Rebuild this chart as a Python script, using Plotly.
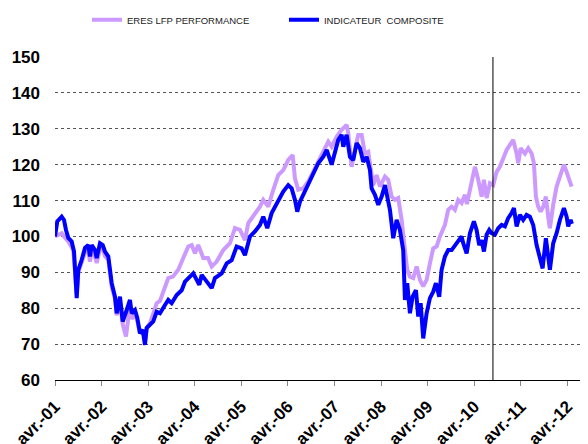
import plotly.graph_objects as go

# x positions: years elapsed since April 2001
composite_t = [0, 0.049, 0.144, 0.193, 0.236, 0.285, 0.358, 0.408, 0.466, 0.500, 0.573, 0.644, 0.715, 0.751,
               0.788, 0.858, 0.895, 0.966, 1.024, 1.073, 1.144, 1.217, 1.288, 1.324, 1.395, 1.453, 1.539, 1.609,
               1.646, 1.717, 1.766, 1.824, 1.882, 1.931, 1.968, 2.039, 2.109, 2.182, 2.253, 2.361, 2.431, 2.504,
               2.612, 2.719, 2.790, 2.897, 2.968, 3.041, 3.097, 3.148, 3.255, 3.363, 3.433, 3.577, 3.685, 3.792,
               3.899, 4.006, 4.077, 4.185, 4.292, 4.399, 4.470, 4.556, 4.650, 4.792, 4.899, 5.006, 5.079, 5.150,
               5.200, 5.258, 5.365, 5.472, 5.579, 5.650, 5.758, 5.831, 5.938, 6.009, 6.079, 6.152, 6.187, 6.260,
               6.330, 6.401, 6.474, 6.545, 6.616, 6.689, 6.760, 6.796, 6.867, 6.938, 7.011, 7.082, 7.152, 7.189,
               7.260, 7.333, 7.403, 7.474, 7.511, 7.560, 7.618, 7.676, 7.747, 7.796, 7.848, 7.903, 7.976, 8.047,
               8.118, 8.176, 8.247, 8.298, 8.369, 8.440, 8.513, 8.620, 8.727, 8.762, 8.835, 8.906, 8.991, 9.049,
               9.105, 9.157, 9.206, 9.264, 9.320, 9.371, 9.442, 9.513, 9.586, 9.657, 9.727, 9.800, 9.850, 9.908,
               9.979, 10.049, 10.122, 10.193, 10.264, 10.337, 10.408, 10.466, 10.536, 10.586, 10.622, 10.693,
               10.766, 10.837, 10.923, 10.981, 11.015, 11.067, 11.094]
composite_v = [100, 104.2, 105.5, 104.6, 101.8, 99.6, 98.6, 95.8, 82.8, 90.7, 93.5, 96.8, 97.6, 94.4,
               97.6, 96.2, 94.0, 98.1, 97.6, 95.8, 94.4, 87.0, 83.2, 78.6, 83.2, 76.3, 79.5, 82.3,
               78.6, 79.5, 77.3, 73.0, 74.0, 69.8, 74.5, 75.3, 76.3, 79.0, 78.6, 80.9, 82.3, 81.4,
               83.7, 85.0, 87.4, 88.8, 89.7, 87.9, 86.5, 89.3, 87.4, 85.6, 88.4, 89.7, 92.5, 93.4,
               97.2, 96.7, 94.8, 100.0, 101.4, 103.2, 105.5, 102.3, 106.5, 110.2, 112.5, 114.3, 113.4, 110.2,
               106.9, 109.7, 112.5, 115.3, 118.0, 120.4, 122.2, 124.1, 120.0, 124.1, 126.9, 128.3, 125.0, 128.3,
               122.2, 121.3, 126.0, 124.6, 120.8, 122.2, 118.5, 113.4, 111.6, 108.8, 111.1, 114.3, 110.2, 107.4,
               99.5, 104.6, 101.8, 96.2, 82.3, 87.0, 78.6, 83.2, 85.0, 77.7, 81.4, 71.6, 78.6, 82.8,
               84.6, 87.0, 83.2, 90.7, 94.4, 96.2, 96.2, 98.1, 100.0, 98.1, 95.3, 100.9, 104.2, 101.8,
               97.6, 99.0, 95.8, 100.5, 101.8, 100.9, 100.5, 102.3, 103.2, 102.8, 105.1, 106.5, 107.9, 102.8,
               106.0, 104.6, 106.0, 105.5, 103.2, 97.6, 93.9, 91.1, 99.5, 94.4, 90.7, 98.1,
               100.9, 104.6, 107.9, 105.5, 102.8, 104.6, 103.5]

eres_t = [0, 0.144, 0.193, 0.285, 0.393, 0.466, 0.500, 0.573, 0.644, 0.715, 0.751, 0.788, 0.858, 0.895,
          0.966, 1.024, 1.073, 1.144, 1.217, 1.288, 1.324, 1.395, 1.453, 1.524, 1.567, 1.609, 1.646, 1.717,
          1.766, 1.824, 1.882, 1.931, 1.968, 2.039, 2.109, 2.182, 2.253, 2.318, 2.431, 2.532, 2.646, 2.753,
          2.861, 2.933, 3.004, 3.075, 3.182, 3.283, 3.363, 3.470, 3.612, 3.755, 3.863, 3.970, 4.077, 4.148,
          4.292, 4.399, 4.470, 4.577, 4.685, 4.792, 4.899, 5.006, 5.101, 5.150, 5.221, 5.328, 5.436, 5.543,
          5.650, 5.758, 5.865, 5.938, 6.045, 6.152, 6.260, 6.294, 6.367, 6.438, 6.509, 6.582, 6.652, 6.723,
          6.796, 6.830, 6.903, 6.974, 7.082, 7.152, 7.225, 7.296, 7.367, 7.440, 7.511, 7.560, 7.618, 7.689,
          7.762, 7.833, 7.903, 7.976, 8.047, 8.118, 8.191, 8.262, 8.369, 8.440, 8.513, 8.584, 8.655, 8.727,
          8.798, 8.841, 8.906, 9.013, 9.084, 9.157, 9.206, 9.264, 9.335, 9.406, 9.479, 9.549, 9.620, 9.693,
          9.764, 9.835, 9.908, 9.942, 9.994, 10.086, 10.157, 10.230, 10.279, 10.322, 10.371, 10.422, 10.479,
          10.536, 10.586, 10.622, 10.693, 10.766, 10.837, 10.923, 10.981, 11.037, 11.088]
eres_v = [100, 100.9, 100.0, 98.6, 96.2, 84.0, 90.0, 92.5, 95.5, 96.0, 93.0, 96.0, 94.5, 92.6,
          96.5, 96.5, 94.5, 93.5, 86.0, 82.5, 78.0, 82.0, 75.5, 72.1, 76.0, 81.0, 77.0, 78.5,
          76.5, 73.0, 74.0, 71.0, 74.5, 75.9, 78.5, 81.4, 82.0, 84.2, 88.4, 88.8, 90.7, 94.0,
          97.2, 97.6, 95.3, 97.6, 94.0, 94.0, 91.6, 93.0, 96.2, 98.1, 102.3, 101.8, 99.0, 103.7,
          106.5, 108.3, 110.2, 108.3, 113.0, 117.1, 118.5, 121.3, 122.7, 116.2, 113.0, 113.4, 115.3, 118.0,
          120.4, 123.1, 126.4, 125.0, 127.8, 129.7, 131.1, 128.8, 119.4, 124.1, 128.3, 128.3, 123.1, 123.6,
          117.1, 114.3, 117.1, 113.9, 116.7, 115.8, 111.1, 110.2, 110.7, 104.6, 96.2, 90.7, 88.8, 88.4,
          91.6, 87.9, 86.1, 87.9, 92.5, 96.7, 97.2, 100.0, 103.2, 107.4, 108.3, 107.4, 110.2, 109.3,
          111.6, 109.0, 113.0, 119.4, 115.8, 111.1, 115.8, 110.7, 114.8, 114.3, 118.0, 119.4, 121.7, 124.1,
          125.5, 126.9, 123.1, 120.4, 124.6, 123.1, 124.6, 123.1, 120.4, 111.1, 108.3, 106.9, 108.3,
          111.1, 105.5, 102.3, 108.8, 113.9, 116.7, 120.0, 118.0, 116.2, 113.9]

tick_vals = [0, 1, 2, 3, 4, 5, 6, 7, 8, 9, 10, 11]
tick_text = ["avr.-01", "avr.-02", "avr.-03", "avr.-04", "avr.-05", "avr.-06",
             "avr.-07", "avr.-08", "avr.-09", "avr.-10", "avr.-11", "avr.-12"]
marker_line_t = 9.40

FONT = "Liberation Sans, Arial, sans-serif"

fig = go.Figure()
fig.add_trace(go.Scatter(x=eres_t, y=eres_v, mode="lines", name="ERES LFP PERFORMANCE",
                         line=dict(color="#CC99FF", width=4)))
fig.add_trace(go.Scatter(x=composite_t, y=composite_v, mode="lines", name="INDICATEUR  COMPOSITE",
                         line=dict(color="#0000FF", width=4)))

fig.add_shape(type="line", x0=marker_line_t, x1=marker_line_t, y0=0, y1=1,
              xref="x", yref="paper", line=dict(color="black", width=1))

fig.update_layout(
    width=588, height=444,
    margin=dict(l=47, r=8, t=49, b=72, autoexpand=False),
    paper_bgcolor="white", plot_bgcolor="white",
    font=dict(family=FONT, color="black"),
    showlegend=True,
    legend=dict(orientation="h", x=0.06, xanchor="left", y=1.115, yanchor="middle",
                font=dict(size=9.5, color="#222"), bgcolor="rgba(0,0,0,0)",
                entrywidth=152, entrywidthmode="pixels"),
    xaxis=dict(range=[0, 11.44], tickmode="array", tickvals=tick_vals, ticktext=tick_text,
               tickangle=-45, tickfont=dict(size=17, family=FONT, weight="bold"),
               showgrid=False, zeroline=False, showline=True, linecolor="black", linewidth=1,
               ticks="outside", ticklen=5, tickcolor="#888", automargin=False, ticklabelstandoff=4),
    yaxis=dict(range=[60, 150], tickmode="array", tickvals=list(range(60, 151, 10)),
               tickfont=dict(size=17, family=FONT, weight="bold"),
               showgrid=True, gridcolor="#555", griddash="dot", gridwidth=1,
               zeroline=False, showline=False, ticks="", ticklabelstandoff=14, automargin=False),
)

fig.write_html("out.html")
